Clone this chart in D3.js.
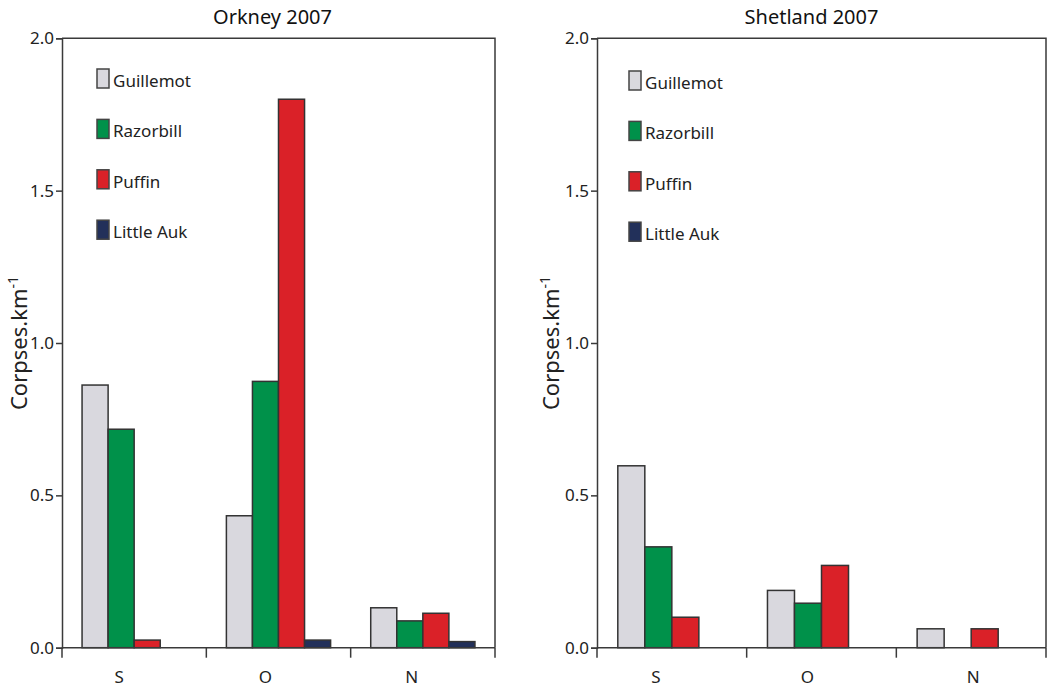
<!DOCTYPE html>
<html>
<head>
<meta charset="utf-8">
<script src="https://cdn.jsdelivr.net/npm/d3@7"></script>
<style>
  html, body { margin: 0; padding: 0; background: #fff; }
  svg { display: block; font-family: "Noto Sans", "Open Sans", sans-serif; }
</style>
</head>
<body>
<svg id="chart" width="1053" height="688"></svg>
<script>
// Beached seabird corpse densities, 2007 surveys
const categories = ["S", "O", "N"];
const species = ["Guillemot", "Razorbill", "Puffin", "Little Auk"];
const yTicks = [0, 0.5, 1.0, 1.5, 2.0];

// Corpses per km, one entry per category (S, O, N)
const orkneyGuillemot = [0.862, 0.433, 0.131];
const orkneyRazorbill = [0.717, 0.874, 0.088];
const orkneyPuffin    = [0.025, 1.80, 0.113];
const orkneyLittleAuk = [0, 0.025, 0.02];

const shetlandGuillemot = [0.597, 0.188, 0.062];
const shetlandRazorbill = [0.331, 0.146, 0];
const shetlandPuffin    = [0.100, 0.270, 0.062];
const shetlandLittleAuk = [0, 0, 0];

const colors = {
  "Guillemot": "#d9d8de",
  "Razorbill": "#00914a",
  "Puffin": "#da2128",
  "Little Auk": "#22305a"
};

const panels = [
  {
    title: "Orkney 2007",
    series: [orkneyGuillemot, orkneyRazorbill, orkneyPuffin, orkneyLittleAuk],
    x0: 62, x1: 495, titleShift: -6, labelShift: [-15, -13, -11], legendX: 35, legendY: 69, yTitleX: 20
  },
  {
    title: "Shetland 2007",
    series: [shetlandGuillemot, shetlandRazorbill, shetlandPuffin, shetlandLittleAuk],
    x0: 597, x1: 1046, titleShift: -10, labelShift: [-16, -14, 2], legendX: 32, legendY: 71, yTitleX: 552
  }
];

const svg = d3.select("#chart");
const plotTop = 38.3, plotBottom = 647.7;
const axisColor = "#3a3a3a";
const textColor = "#222";

const y = d3.scaleLinear().domain([0, 2]).range([plotBottom, plotTop]);

panels.forEach(p => {
  const g = svg.append("g");

  const x = d3.scaleBand().domain(categories).range([p.x0, p.x1]).paddingInner(0).paddingOuter(0);
  const xs = d3.scaleBand().domain(species).range([0, x.bandwidth()]).paddingInner(0).paddingOuter(0.77);

  // bars
  species.forEach((sp, si) => {
    const vals = p.series[si];
    g.append("g").selectAll("rect")
      .data(categories.map((c, ci) => ({ c, v: vals[ci] })).filter(d => d.v > 0))
      .join("rect")
      .attr("x", d => x(d.c) + xs(sp))
      .attr("y", d => y(d.v))
      .attr("width", xs.bandwidth())
      .attr("height", d => y(0) - y(d.v))
      .attr("fill", colors[sp])
      .attr("stroke", "#333")
      .attr("stroke-width", 1.5);
  });

  // frame: top and right edges
  g.append("path")
    .attr("d", `M${p.x0},${plotTop}H${p.x1}V${plotBottom}`)
    .attr("fill", "none")
    .attr("stroke", axisColor)
    .attr("stroke-width", 1.5);

  // y axis
  const yAxis = d3.axisLeft(y).tickValues(yTicks).tickFormat(d3.format(".1f")).tickSize(6).tickPadding(2);
  const ya = g.append("g").attr("transform", `translate(${p.x0},0)`).call(yAxis);
  ya.select(".domain").attr("stroke", axisColor).attr("stroke-width", 1.5);
  ya.selectAll(".tick line").attr("stroke", axisColor).attr("stroke-width", 1.5);
  ya.selectAll(".tick text").attr("fill", textColor).attr("font-size", 17).attr("font-family", "Noto Sans, sans-serif");

  // x axis: ticks at category boundaries
  const xa = g.append("g").attr("transform", `translate(0,${plotBottom})`);
  xa.append("line").attr("x1", p.x0).attr("x2", p.x1)
    .attr("stroke", axisColor).attr("stroke-width", 1.5);
  const bounds = categories.map(c => x(c)).concat([x(categories[categories.length - 1]) + x.bandwidth()]);
  xa.selectAll("line.tk").data(bounds).join("line").attr("class", "tk")
    .attr("x1", d => d).attr("x2", d => d).attr("y1", 0).attr("y2", 10)
    .attr("stroke", axisColor).attr("stroke-width", 1.5);
  xa.selectAll("text").data(categories).join("text")
    .attr("x", (d, i) => x(d) + x.bandwidth() / 2 + p.labelShift[i])
    .attr("y", 35)
    .attr("text-anchor", "middle")
    .attr("font-size", 17)
    .attr("fill", textColor)
    .text(d => d);

  // title
  g.append("text")
    .attr("x", (p.x0 + p.x1) / 2 + p.titleShift)
    .attr("y", 24)
    .attr("text-anchor", "middle")
    .attr("font-size", 20)
    .attr("fill", "#111")
    .text(p.title);

  // y axis title
  const yt = g.append("text")
    .attr("transform", `translate(${p.yTitleX + 7},${(plotTop + plotBottom) / 2}) rotate(-90)`)
    .attr("text-anchor", "middle")
    .attr("font-size", 22)
    .attr("fill", textColor);
  yt.append("tspan").text("Corpses.km");
  yt.append("tspan").attr("dy", -9).attr("font-size", 14).text("-1");

  // legend
  const lg = g.append("g").attr("transform", `translate(${p.x0 + p.legendX},${p.legendY})`);
  species.forEach((sp, i) => {
    const row = lg.append("g").attr("transform", `translate(0,${i * 50.4})`);
    row.append("rect").attr("x", 0).attr("y", 0).attr("width", 12).attr("height", 19)
      .attr("fill", colors[sp]).attr("stroke", "#444").attr("stroke-width", 1.5);
    row.append("text").attr("x", 16).attr("y", 18).attr("font-size", 17).attr("fill", textColor).text(sp);
  });
});
</script>
</body>
</html>
